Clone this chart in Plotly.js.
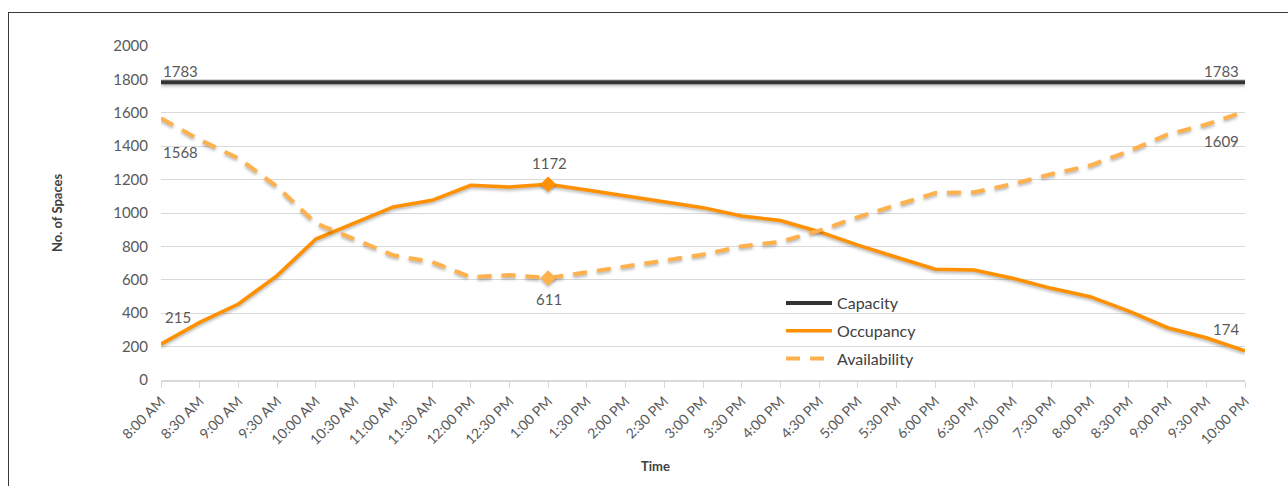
<!DOCTYPE html>
<html>
<head>
<meta charset="utf-8">
<script src="https://cdn.plot.ly/plotly-3.0.1.min.js"></script>
<style>
  html, body { margin: 0; padding: 0; background: #fff; }
  #wrap { position: relative; width: 1288px; height: 486px; overflow: hidden; }
  #chart { position: absolute; left: 0; top: 0; width: 1288px; height: 486px; }
  #frame { position: absolute; left: 8px; top: 12px; width: 1300px; height: 500px;
           border-left: 1.5px solid #3a3a3a; border-top: 1.5px solid #3a3a3a; pointer-events: none; }
  #chart .scatterlayer .trace { filter: drop-shadow(0px 2px 1.5px rgba(0,0,0,0.28)); }
</style>
</head>
<body>
<div id="wrap">
  <div id="chart"></div>
  <div id="frame"></div>
</div>
<script>
// Half-hourly time slots
const times = ["8:00 AM","8:30 AM","9:00 AM","9:30 AM","10:00 AM","10:30 AM","11:00 AM","11:30 AM",
  "12:00 PM","12:30 PM","1:00 PM","1:30 PM","2:00 PM","2:30 PM","3:00 PM","3:30 PM","4:00 PM",
  "4:30 PM","5:00 PM","5:30 PM","6:00 PM","6:30 PM","7:00 PM","7:30 PM","8:00 PM","8:30 PM",
  "9:00 PM","9:30 PM","10:00 PM"];

// Parking spaces
const capacity = [1783,1783,1783,1783,1783,1783,1783,1783,1783,1783,1783,1783,1783,1783,1783,
  1783,1783,1783,1783,1783,1783,1783,1783,1783,1783,1783,1783,1783,1783];
const occupancy = [215,345,455,625,844,938,1036,1076,1166,1155,1172,1138,1104,1070,1032,
  982,955,888,808,735,663,659,609,549,499,413,313,253,174];
const availability = [1568,1438,1328,1158,939,845,747,707,617,628,611,645,679,713,751,
  801,828,895,975,1048,1120,1124,1174,1234,1284,1370,1470,1530,1609];

const yTicks = [0,200,400,600,800,1000,1200,1400,1600,1800,2000];

const FONT = "Lato, 'Open Sans', sans-serif";
const TXT = "#595959";
const last = times.length - 1;
const peak = 10; // 1:00 PM

const traces = [
  { x: times, y: capacity, name: "Capacity", mode: "lines", legendgroup: "a",
    line: { color: "#333333", width: 4 } },
  { x: times, y: occupancy, name: "Occupancy", mode: "lines", legendgroup: "b",
    line: { color: "#FF9000", width: 3.5 } },
  { x: times, y: availability, name: "Availability", mode: "lines", legendgroup: "c",
    line: { color: "#FFB14E", width: 4, dash: "14px,10px" } },
  { x: [times[peak], times[peak]], y: [occupancy[peak], availability[peak]], mode: "markers",
    showlegend: false, marker: { symbol: "diamond", size: 12, color: ["#FF9000", "#FFB14E"] } }
];

function label(xi, yv, text, xanchor, yshift, xshift) {
  return { x: times[xi], y: yv, text: String(text), showarrow: false, xanchor: xanchor,
    yanchor: "middle", yshift: yshift, xshift: xshift || 0,
    font: { family: FONT, size: 15, color: TXT } };
}

const annotations = [
  label(0, capacity[0], capacity[0], "left", 11, 0),
  label(last, capacity[last], capacity[last], "right", 11, -4),
  label(0, availability[0], availability[0], "left", -34, 0),
  label(0, occupancy[0], occupancy[0], "left", 27, 2),
  label(peak, occupancy[peak], occupancy[peak], "center", 21, 1),
  label(peak, availability[peak], availability[peak], "center", -21, 1),
  label(last, occupancy[last], occupancy[last], "right", 22, -4),
  label(last, availability[last], availability[last], "right", -30, -4),
  { xref: "paper", yref: "paper", x: (57 - 161) / 1084, y: 0.5, text: "<b>No. of Spaces</b>",
    textangle: -90, showarrow: false, xanchor: "center", yanchor: "middle",
    font: { family: FONT, size: 13, color: "#404040" } },
  { xref: "paper", yref: "paper", x: (655 - 161) / 1084, y: (380 - 466) / 334, text: "<b>Time</b>",
    showarrow: false, xanchor: "center", yanchor: "middle",
    font: { family: FONT, size: 13, color: "#404040" } }
];

const layout = {
  width: 1288, height: 486,
  margin: { l: 161, r: 43, t: 46, b: 106 },
  paper_bgcolor: "#ffffff", plot_bgcolor: "#ffffff",
  font: { family: FONT, color: TXT },
  showlegend: true,
  legend: { x: (781 - 161) / 1084, y: (380 - 286) / 334, xanchor: "left", yanchor: "top",
    bgcolor: "rgba(0,0,0,0)", traceorder: "grouped", tracegroupgap: 4, itemwidth: 46,
    font: { family: FONT, size: 16, color: "#404040" } },
  xaxis: {
    type: "category", range: [0, last], tickangle: -45,
    showgrid: false, showline: true, linecolor: "#d9d9d9", linewidth: 1.5,
    ticks: "outside", ticklen: 6, tickcolor: "#d9d9d9",
    tickfont: { family: FONT, size: 14, color: TXT }, zeroline: false
  },
  yaxis: {
    range: [0, 2000], tickvals: yTicks, ticktext: yTicks.map(String),
    showgrid: true, gridcolor: "#d9d9d9", gridwidth: 1, zeroline: false,
    showline: false, ticks: "", ticklabelstandoff: 12,
    tickfont: { family: FONT, size: 15, color: TXT }
  },
  annotations: annotations
};

Plotly.newPlot("chart", traces, layout, { displayModeBar: false, staticPlot: true });
</script>
</body>
</html>
